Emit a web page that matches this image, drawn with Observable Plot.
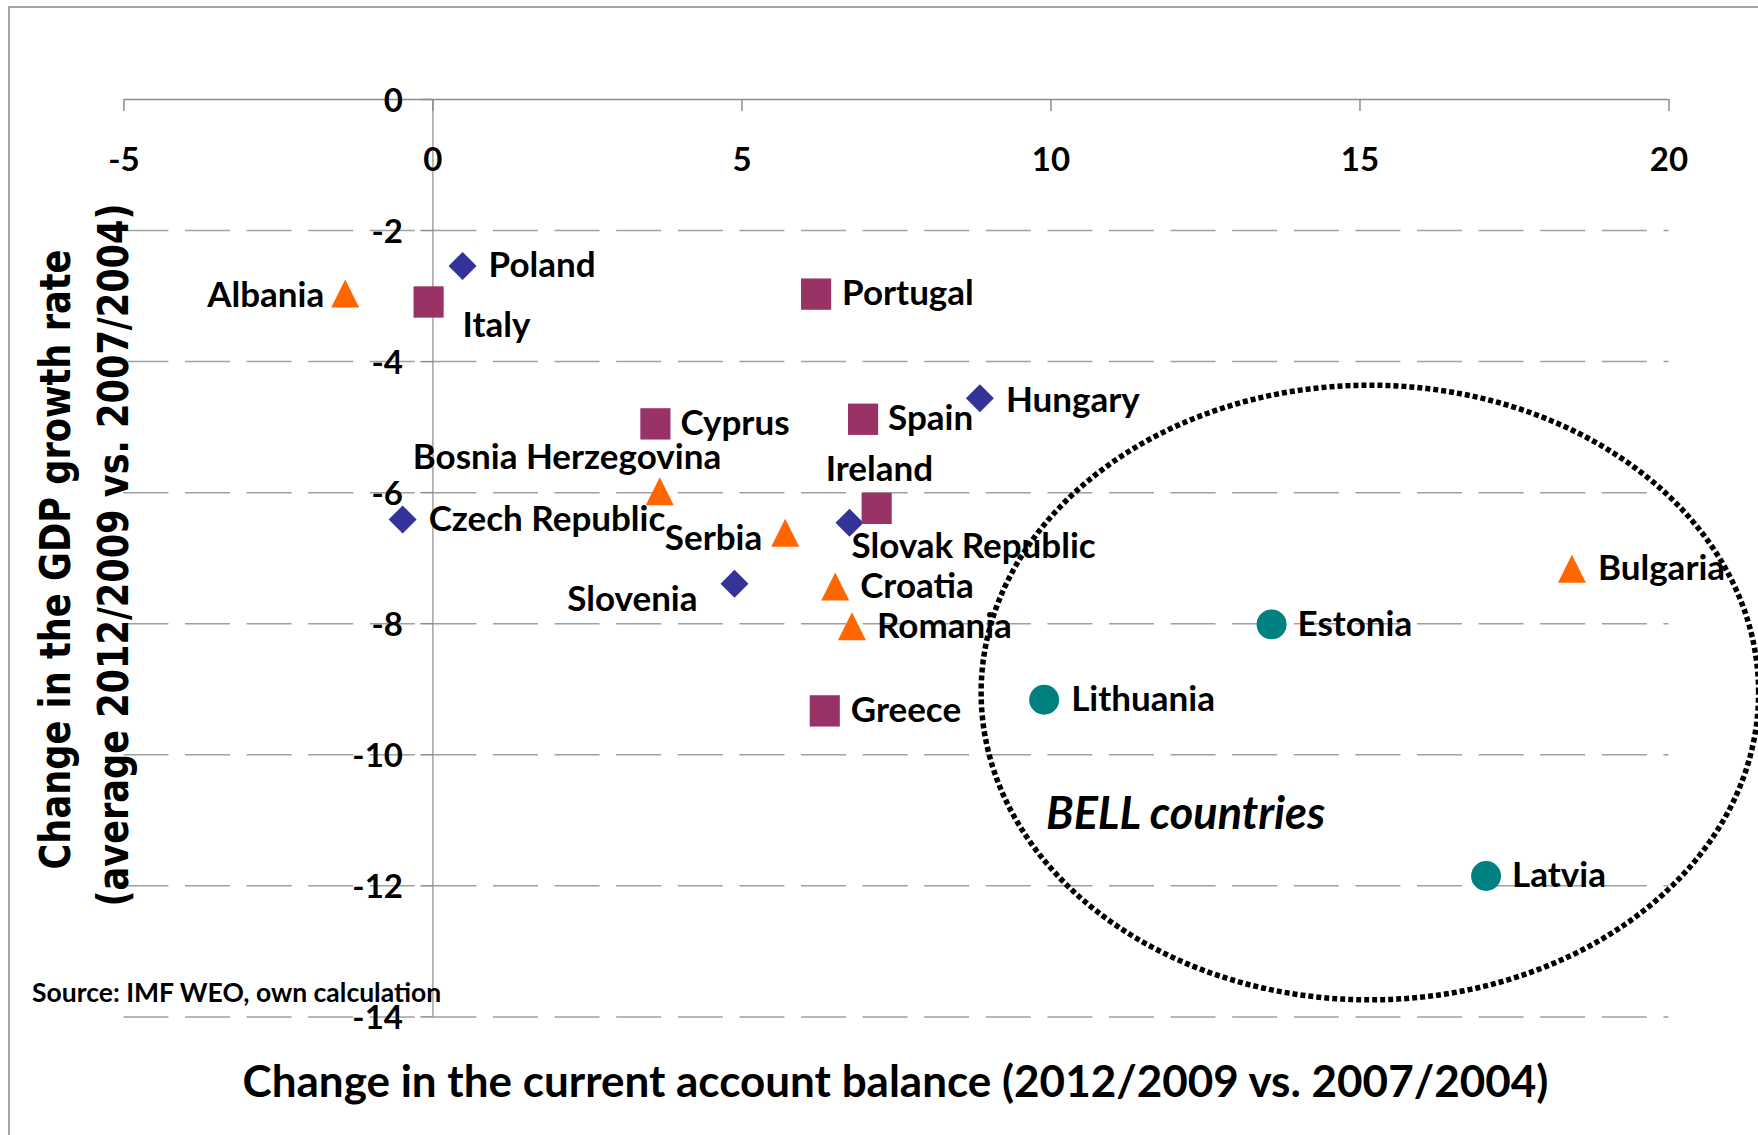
<!DOCTYPE html>
<html>
<head>
<meta charset="utf-8">
<script src="https://cdn.jsdelivr.net/npm/d3@7"></script>
<script src="https://cdn.jsdelivr.net/npm/@observablehq/plot@0.6"></script>
<style>
  html, body { margin: 0; padding: 0; background: #ffffff; }
  #wrap { position: relative; width: 1758px; height: 1135px; overflow: hidden; }
  #frame { position: absolute; left: 8px; top: 6px; width: 1800px; height: 1200px;
           border-left: 2px solid #a6a6a6; border-top: 2px solid #a6a6a6; pointer-events: none; }
  #chart { position: absolute; left: 0; top: 0; }
</style>
</head>
<body>
<div id="wrap"><div id="chart"></div><div id="frame"></div></div>
<script>
// ---------------- data ----------------
const countries = ["Poland", "Czech Republic", "Slovak Republic", "Hungary", "Slovenia",
  "Italy", "Portugal", "Cyprus", "Spain", "Ireland", "Greece",
  "Albania", "Bosnia Herzegovina", "Serbia", "Croatia", "Romania", "Bulgaria",
  "Estonia", "Lithuania", "Latvia"];
const groups = ["CEE", "CEE", "CEE", "CEE", "CEE",
  "South", "South", "South", "South", "South", "South",
  "SEE", "SEE", "SEE", "SEE", "SEE", "SEE",
  "Baltic", "Baltic", "Baltic"];
// change in the current account balance (2012/2009 vs. 2007/2004)
const caChange = [0.48, -0.49, 6.74, 8.85, 4.88,
  -0.07, 6.20, 3.60, 6.96, 7.18, 6.34,
  -1.42, 3.67, 5.70, 6.51, 6.78, 18.43,
  13.57, 9.89, 17.04];
// change in the GDP growth rate (average 2012/2009 vs. 2007/2004)
const gdpChange = [-2.54, -6.41, -6.46, -4.56, -7.39,
  -3.09, -2.97, -4.95, -4.88, -6.24, -9.33,
  -2.96, -5.98, -6.61, -7.43, -8.04, -7.16,
  -8.01, -9.16, -11.85];

const xTicks = [-5, 0, 5, 10, 15, 20];
const yTicks = [0, -2, -4, -6, -8, -10, -12, -14];
const yGrid = [-2, -4, -6, -8, -10, -12, -14];

// BELL annotation (ellipse centre / radii in data units, label position)
const bellCentre = [15.16, -9.05];
const bellRadii = [6.29, 4.69];
const bellLabel = [{x: 9.92, y: -10.91, text: "BELL countries"}];

const xTitle = "Change in the current account balance (2012/2009 vs. 2007/2004)";
const yTitle1 = "Change in the GDP growth rate";
const yTitle2 = "(average 2012/2009 vs. 2007/2004)";
const source = "Source: IMF WEO, own calculation";

const rows = countries.map((c, i) => ({country: c, group: groups[i], x: caChange[i], y: gdpChange[i]}));

// ---------------- styles ----------------
const symDiamond = {draw(ctx, size) { const h = Math.sqrt(size) / 2;
  ctx.moveTo(0, -h); ctx.lineTo(h, 0); ctx.lineTo(0, h); ctx.lineTo(-h, 0); ctx.closePath(); }};
const symSquare = {draw(ctx, size) { const h = Math.sqrt(size) / 2;
  ctx.rect(-h, -h * 1.04, 2 * h, 2 * h * 1.04); }};
const symTriangle = {draw(ctx, size) { const h = Math.sqrt(size) / 2;
  ctx.moveTo(0, -h); ctx.lineTo(h, h); ctx.lineTo(-h, h); ctx.closePath(); }};
const symCircle = {draw(ctx, size) { const h = Math.sqrt(size) / 2;
  ctx.moveTo(h, 0); ctx.arc(0, 0, h, 0, 2 * Math.PI); }};

const groupStyle = {
  CEE:    {fill: "#333399", symbol: symDiamond,  r: 15.8},
  South:  {fill: "#993366", symbol: symSquare,   r: 17.0},
  SEE:    {fill: "#FF6600", symbol: symTriangle, r: 15.8},
  Baltic: {fill: "#008080", symbol: symCircle,   r: 16.9}
};

// label placement relative to the marker (pixels)
const labelPlace = {
  "Poland": ["start", 26, 0],
  "Czech Republic": ["start", 26, 0],
  "Slovak Republic": ["start", 2, 24],
  "Hungary": ["start", 26, 2],
  "Slovenia": ["end", -37, 16],
  "Italy": ["start", 34, 24],
  "Portugal": ["start", 26, 0],
  "Cyprus": ["start", 25, 0],
  "Spain": ["start", 25, 0],
  "Ireland": ["start", -51, -39],
  "Greece": ["start", 26, 0],
  "Albania": ["end", -21, 2],
  "Bosnia Herzegovina": ["start", -247, -34],
  "Serbia": ["end", -23, 6],
  "Croatia": ["start", 25, 0],
  "Romania": ["start", 25, 0],
  "Bulgaria": ["start", 26, 0],
  "Estonia": ["start", 26, 0],
  "Lithuania": ["start", 27, 0],
  "Latvia": ["start", 26, 0]
};

const font = "Lato, 'Open Sans', sans-serif";
const gray = "#a0a0a0";

// ellipse outline (shape of the annotation)
const ellipsePts = d3.range(0, 361, 1).map(a => {
  const t = a * Math.PI / 180;
  return {x: bellCentre[0] + bellRadii[0] * Math.cos(t), y: bellCentre[1] + bellRadii[1] * Math.sin(t)};
});

const marks = [
  // gridlines
  Plot.ruleY(yGrid, {stroke: gray, strokeWidth: 1.5, strokeDasharray: "45,16.6"}),
  // x axis line (at y = 0) and y axis line (at x = 0)
  Plot.ruleY([0], {stroke: "#8c8c8c", strokeWidth: 1.5}),
  Plot.ruleX([0], {y1: 0, y2: -14, stroke: "#8c8c8c", strokeWidth: 1.2}),
  // tick marks
  Plot.ruleX(xTicks, {x: d => d, y1: 0, y2: 0, insetBottom: -12, stroke: "#8c8c8c", strokeWidth: 1.5}),
  Plot.ruleY(yTicks, {y: d => d, x1: 0, x2: 0, insetLeft: -12, stroke: "#8c8c8c", strokeWidth: 1.5}),
  // tick labels
  Plot.text(xTicks, {x: d => d, y: 0, text: d => String(d), dy: 60.5,
    fontSize: 33, fontWeight: "bold", fontFamily: font, fill: "#000"}),
  Plot.text(yTicks, {x: 0, y: d => d, text: d => String(d), dx: -30, dy: 1.5, textAnchor: "end",
    fontSize: 33, fontWeight: "bold", fontFamily: font, fill: "#000"})
];

// points
for (const g of Object.keys(groupStyle)) {
  const s = groupStyle[g];
  marks.push(Plot.dot(rows.filter(d => d.group === g), {x: "x", y: "y", symbol: s.symbol, r: s.r, fill: s.fill, stroke: "none"}));
}
// point labels
for (const d of rows) {
  const [anchor, dx, dy] = labelPlace[d.country];
  marks.push(Plot.text([d], {x: "x", y: "y", text: "country", textAnchor: anchor, dx, dy,
    fontSize: 35, fontWeight: "bold", fontFamily: font, fill: "#000"}));
}
// BELL ellipse + label
marks.push(Plot.line(ellipsePts, {x: "x", y: "y", stroke: "#000", strokeWidth: 5.5, strokeDasharray: "5,3", strokeLinecap: "butt"}));
marks.push(Plot.text(bellLabel, {x: "x", y: "y", text: "text", textAnchor: "start",
  fontSize: 45, fontWeight: "bold", fontStyle: "italic", fontFamily: font, fill: "#000"}));

// titles and source
marks.push(Plot.text([xTitle], {frameAnchor: "bottom", text: d => d, dx: -1, dy: 80,
  fontSize: 44, fontWeight: "bold", fontFamily: font, fill: "#000"}));
marks.push(Plot.text([yTitle1], {frameAnchor: "left", text: d => d, rotate: -90, textAnchor: "start", dx: -67.5, dy: 311.3,
  fontSize: 42, fontWeight: "bold", fontFamily: "'DejaVu Sans', sans-serif", fill: "#000"}));
marks.push(Plot.text([yTitle2], {frameAnchor: "left", text: d => d, rotate: -90, textAnchor: "start", dx: -9.4, dy: 348.3,
  fontSize: 42, fontWeight: "bold", fontFamily: "'DejaVu Sans', sans-serif", fill: "#000"}));
marks.push(Plot.text([source], {frameAnchor: "bottom-left", text: d => d, textAnchor: "start", dx: -91.8, dy: -15,
  fontSize: 26.5, fontWeight: "bold", fontFamily: font, fill: "#000"}));

const chart = Plot.plot({
  width: 1758,
  height: 1135,
  marginLeft: 123.4,
  marginRight: 89.5,
  marginTop: 99,
  marginBottom: 118.6,
  x: {domain: [-5, 20], axis: null},
  y: {domain: [-14, 0], axis: null},
  style: {background: "transparent", fontFamily: font, overflow: "visible"},
  marks
});
document.getElementById("chart").appendChild(chart);

// compress the rotated y titles to the reference length
for (const t of chart.querySelectorAll("text")) {
  if (t.textContent === yTitle1) { t.setAttribute("textLength", 620); t.setAttribute("lengthAdjust", "spacingAndGlyphs"); }
  if (t.textContent === yTitle2) { t.setAttribute("textLength", 703); t.setAttribute("lengthAdjust", "spacingAndGlyphs"); }
}
</script>
</body>
</html>
